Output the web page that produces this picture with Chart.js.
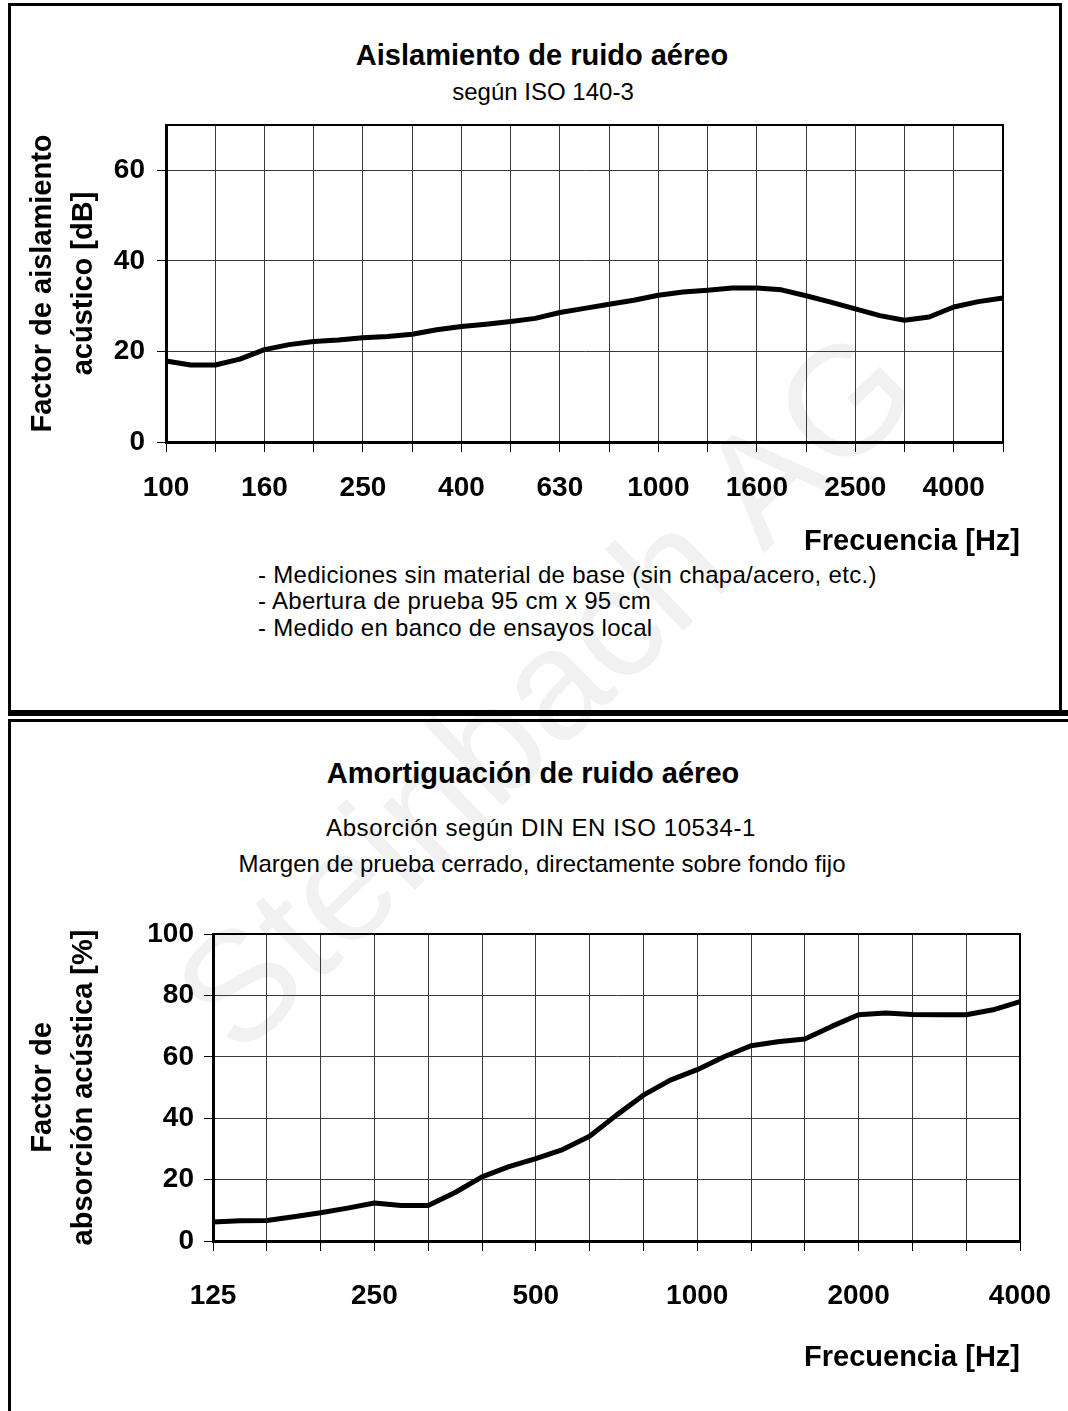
<!DOCTYPE html>
<html>
<head>
<meta charset="utf-8">
<script src="https://cdn.jsdelivr.net/npm/chart.js@4.4.1/dist/chart.umd.min.js"></script>
<style>
  html, body { margin: 0; padding: 0; background: #fff; }
  body { width: 1068px; height: 1411px; position: relative; overflow: hidden;
         font-family: "Liberation Sans", Arial, sans-serif; color: #000; }
  .mark { position: absolute; left: 545px; top: 690px; font-size: 156px; color: #f1f1f1;
          transform: translate(-50%, -50%) rotate(-44deg); white-space: nowrap; }
  .box1 { position: absolute; left: 8px; top: 3px; width: 1054px; height: 710px;
          box-sizing: border-box; border: 3px solid #000; border-bottom: none; }
  .bar { position: absolute; background: #000; }
  .ctr { position: absolute; transform: translate(-50%, -50%); white-space: nowrap; line-height: 1; }
  .note { position: absolute; left: 258px; transform: translateY(-50%); white-space: nowrap; line-height: 1;
          font-size: 24px; letter-spacing: 0.3px; }
  .xt { position: absolute; right: 48px; transform: translateY(-50%); white-space: nowrap; line-height: 1;
        font-size: 29px; font-weight: bold; z-index: 2; }
  canvas { position: absolute; left: 0; }
</style>
</head>
<body>
<div class="mark">Steinbach AG</div>

<div class="box1"></div>
<div class="bar" style="left:8px; top:710px; width:1060px; height:6px;"></div>
<div class="bar" style="left:8px; top:719px; width:1060px; height:3px;"></div>
<div class="bar" style="left:8px; top:719px; width:3px; height:692px;"></div>

<div class="ctr" style="left:542px; top:55px; font-size:29px; font-weight:bold;">Aislamiento de ruido aéreo</div>
<div class="ctr" style="left:543px; top:92px; font-size:24px;">según ISO 140-3</div>
<div class="xt" style="top:540px;">Frecuencia [Hz]</div>
<div class="note" style="top:575px;">- Mediciones sin material de base (sin chapa/acero, etc.)</div>
<div class="note" style="top:601px;">- Abertura de prueba 95 cm x 95 cm</div>
<div class="note" style="top:628px;">- Medido en banco de ensayos local</div>

<div class="ctr" style="left:533px; top:773px; font-size:29px; font-weight:bold;">Amortiguación de ruido aéreo</div>
<div class="ctr" style="left:541px; top:828px; font-size:24px; letter-spacing:0.6px;">Absorción según DIN EN ISO 10534-1</div>
<div class="ctr" style="left:542px; top:864px; font-size:24px;">Margen de prueba cerrado, directamente sobre fondo fijo</div>

<canvas id="chart1" width="1068" height="708" style="top:0px;"></canvas>
<canvas id="chart2" width="1068" height="689" style="top:722px;"></canvas>

<script>
var FONT = "'Liberation Sans', Arial, sans-serif";

// Aislamiento de ruido aereo (dB), 1/6 octave steps
var bands1 = ['100','112','125','140','160','180','200','224','250','280','315','355','400','450','500',
  '560','630','710','800','900','1000','1120','1250','1400','1600','1800','2000','2240','2500','2800',
  '3150','3550','4000','4500','5000'];
var insulation = [17.9, 17.0, 17.0, 18.3, 20.4, 21.5, 22.2, 22.5, 23.0, 23.3, 23.8, 24.8, 25.5, 26.0, 26.6,
  27.3, 28.6, 29.5, 30.4, 31.3, 32.4, 33.1, 33.5, 34.0, 34.0, 33.6, 32.3, 30.9, 29.4, 27.9,
  26.9, 27.6, 29.8, 31.0, 31.8];
var grid1 = ['100','125','160','200','250','315','400','500','630','800','1000','1250','1600','2000',
  '2500','3150','4000','5000'];
var labels1 = ['100','160','250','400','630','1000','1600','2500','4000'];

// Amortiguacion de ruido aereo (%), 1/6 octave steps
var bands2 = ['125','140','160','180','200','224','250','280','315','355','400','450','500','560','630',
  '710','800','900','1000','1120','1250','1400','1600','1800','2000','2240','2500','2800','3150','3550','4000'];
var absorption = [6.2, 6.6, 6.7, 7.9, 9.2, 10.7, 12.4, 11.6, 11.6, 15.8, 20.9, 24.2, 26.8, 29.8, 34.1,
  41.0, 47.5, 52.4, 55.8, 60.0, 63.6, 64.9, 65.8, 69.9, 73.7, 74.3, 73.8, 73.7, 73.7, 75.3, 78.0];
var grid2 = ['125','160','200','250','315','400','500','630','800','1000','1250','1600','2000','2500','3150','4000'];
var labels2 = ['125','250','500','1000','2000','4000'];

// top and right edges of the plot
var frame = {
  id: 'frame',
  beforeDatasetsDraw: function(chart) {
    var a = chart.chartArea, c = chart.ctx;
    c.save();
    c.strokeStyle = '#000';
    c.lineWidth = 2;
    c.beginPath();
    c.moveTo(a.left, a.top);
    c.lineTo(a.right, a.top);
    c.lineTo(a.right, a.bottom);
    c.stroke();
    c.restore();
  }
};

function makeChart(id, bands, values, grid, labels, o) {
  return new Chart(document.getElementById(id), {
    type: 'line',
    data: {
      labels: bands,
      datasets: [{
        data: values,
        borderColor: '#000',
        borderWidth: 5,
        pointRadius: 0,
        tension: 0,
        fill: false,
        borderJoinStyle: 'round'
      }]
    },
    options: {
      responsive: false,
      animation: false,
      devicePixelRatio: 1,
      layout: { padding: o.pad },
      plugins: { legend: { display: false }, tooltip: { enabled: false } },
      scales: {
        x: {
          offset: false,
          border: { color: '#000', width: 3 },
          grid: {
            lineWidth: 1,
            tickLength: 10,
            color: function(c) { return grid.indexOf(bands[c.index]) >= 0 ? '#3a3a3a' : 'rgba(0,0,0,0)'; },
            tickColor: function(c) { return grid.indexOf(bands[c.index]) >= 0 ? '#000' : 'rgba(0,0,0,0)'; }
          },
          ticks: {
            autoSkip: false, maxRotation: 0, minRotation: 0, padding: o.xPad, color: '#000',
            font: { family: FONT, size: 28, weight: 'bold', lineHeight: o.xLh },
            callback: function(v, i) { return labels.indexOf(bands[i]) >= 0 ? bands[i] : ''; }
          },
          title: { display: o.xTitle, text: 'Frecuencia [Hz]', align: 'end', color: '#000',
                   font: { family: FONT, size: 29, weight: 'bold', lineHeight: 1.2 },
                   padding: { top: 0, bottom: 6 } },
          afterFit: function(s) { s.height = o.xHeight; }
        },
        y: {
          min: o.min, max: o.max,
          border: { color: '#000', width: 3 },
          grid: { color: '#3a3a3a', lineWidth: 1, tickColor: '#000', tickLength: 9 },
          ticks: { stepSize: 20, includeBounds: false, padding: o.yPad, color: '#000',
                   font: { family: FONT, size: 28, weight: 'bold', lineHeight: 1.2 } },
          title: { display: true, text: o.yTitle, color: '#000',
                   font: { family: FONT, size: 29, weight: 'bold', lineHeight: 1.4 },
                   padding: { top: 23, bottom: 0 } },
          afterFit: function(s) { s.width = o.yWidth; }
        }
      }
    },
    plugins: [frame]
  });
}

makeChart('chart1', bands1, insulation, grid1, labels1, {
  min: 0, max: 70, yPad: 12, xPad: 19, xLh: 1.2, xTitle: false,
  pad: { top: 125, left: 0, right: 65, bottom: 146 }, yWidth: 166, xHeight: 120,
  yTitle: ['Factor de aislamiento', 'acústico [dB]']
});

makeChart('chart2', bands2, absorption, grid2, labels2, {
  min: 0, max: 100, yPad: 10, xPad: 14, xLh: 2.2, xTitle: true,
  pad: { top: 212, left: 0, right: 48, bottom: 30 }, yWidth: 213, xHeight: 140,
  yTitle: ['Factor de', 'absorción acústica [%]']
});
</script>
</body>
</html>
